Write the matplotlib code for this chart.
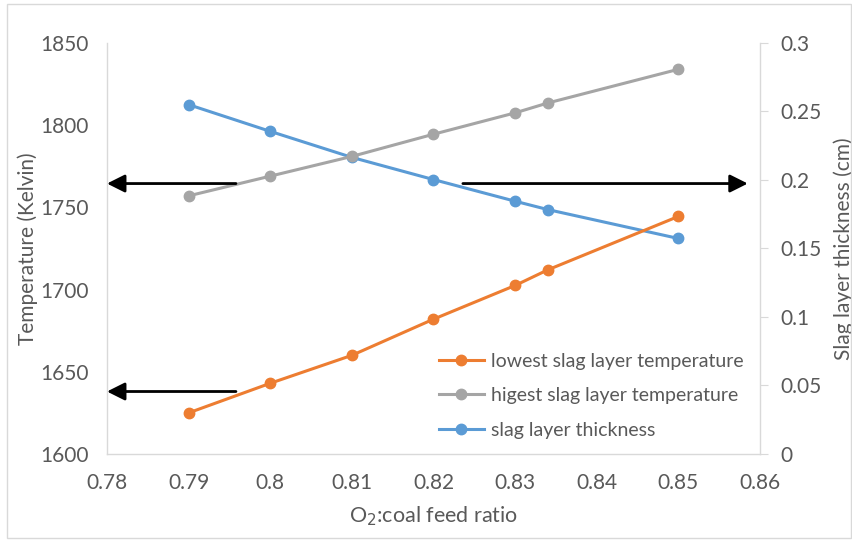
import matplotlib.pyplot as plt
from matplotlib.patches import Rectangle

plt.rcParams['font.family'] = ['Lato', 'DejaVu Sans']

# data
ratio = [0.79, 0.80, 0.81, 0.82, 0.83, 0.834, 0.85]
t_low = [1625, 1643, 1660, 1682, 1702.5, 1712, 1744.5]
t_high = [1757, 1769, 1781, 1794.5, 1807.5, 1813.5, 1834]
thick = [0.255, 0.2355, 0.2165, 0.2003, 0.1845, 0.1784, 0.1573]

xticks = [0.78, 0.79, 0.80, 0.81, 0.82, 0.83, 0.84, 0.85, 0.86]
xticklabels = ["0.78", "0.79", "0.8", "0.81", "0.82", "0.83", "0.84", "0.85", "0.86"]
yticks_left = [1600, 1650, 1700, 1750, 1800, 1850]
yticks_right = [0, 0.05, 0.1, 0.15, 0.2, 0.25, 0.3]
yticklabels_right = ["0", "0.05", "0.1", "0.15", "0.2", "0.25", "0.3"]

# arrows (start x, end x, y on left axis)
arrows_left = [(0.7958, 0.78, 1764.5), (0.7958, 0.78, 1638)]
arrow_right = (0.8236, 0.8585, 1764.5)

c_orange = "#ED7D31"
c_gray = "#A5A5A5"
c_blue = "#5B9BD5"
c_text = "#595959"
c_axis = "#D9D9D9"

fig = plt.figure(figsize=(8.53, 5.40), dpi=100)
ax = fig.add_axes([0.1254, 0.1593, 0.7656, 0.7611])
ax2 = ax.twinx()

l1, = ax.plot(ratio, t_low, color=c_orange, lw=2.2, marker="o", ms=7.5)
l2, = ax.plot(ratio, t_high, color=c_gray, lw=2.2, marker="o", ms=7.5)
l3, = ax2.plot(ratio, thick, color=c_blue, lw=2.2, marker="o", ms=7.5)

ax.set_xlim(0.78, 0.86)
ax.set_ylim(1600, 1850)
ax2.set_ylim(0, 0.3)
ax.set_xticks(xticks)
ax.set_xticklabels(xticklabels)
ax.set_yticks(yticks_left)
ax2.set_yticks(yticks_right)
ax2.set_yticklabels(yticklabels_right)

for a in (ax, ax2):
    for s in a.spines.values():
        s.set_color(c_axis)
        s.set_linewidth(1)
    a.spines["top"].set_visible(False)
ax.spines["right"].set_visible(False)
ax2.spines["left"].set_visible(False)
ax2.spines["bottom"].set_visible(False)

ax.tick_params(axis="x", length=0, labelsize=15, labelcolor=c_text, pad=14)
ax.tick_params(axis="y", length=0, labelsize=15, labelcolor=c_text, pad=13)
ax2.tick_params(axis="y", length=6, color=c_axis, labelsize=15, labelcolor=c_text, pad=9)

ax.set_xlabel("O$_2$:coal feed ratio", fontsize=15.5, color=c_text, labelpad=8)
ax.set_ylabel("Temperature (Kelvin)", fontsize=15, color=c_text, labelpad=2)
ax2.set_ylabel("Slag layer thickness (cm)", fontsize=15, color=c_text, labelpad=8)

ax.set_zorder(ax2.get_zorder() + 1)
ax.patch.set_visible(False)

for x0, x1, y in arrows_left:
    ax.annotate("", xy=(x1, y), xytext=(x0, y),
                arrowprops=dict(arrowstyle="-|>,head_length=0.6,head_width=0.3",
                                color="black", lw=2, mutation_scale=18,
                                shrinkA=0, shrinkB=0), annotation_clip=False)
x0, x1, y = arrow_right
ax.annotate("", xy=(x1, y), xytext=(x0, y),
            arrowprops=dict(arrowstyle="-|>,head_length=0.6,head_width=0.3",
                            color="black", lw=2, mutation_scale=18,
                            shrinkA=0, shrinkB=0), annotation_clip=False)

leg = ax.legend([l1, l2, l3],
                ["lowest slag layer temperature", "higest slag layer temperature", "slag layer thickness"],
                loc="upper left", bbox_to_anchor=(0.503, 0.365), bbox_transform=fig.transFigure,
                frameon=False, fontsize=14, labelcolor=c_text, handlelength=2.3,
                handletextpad=0.4, labelspacing=0.9, borderpad=0)

fig.patches.append(Rectangle((0.008, 0.004), 0.99, 0.988, transform=fig.transFigure,
                             fill=False, edgecolor=c_axis, lw=1))

fig.savefig("out.png", dpi=100)
